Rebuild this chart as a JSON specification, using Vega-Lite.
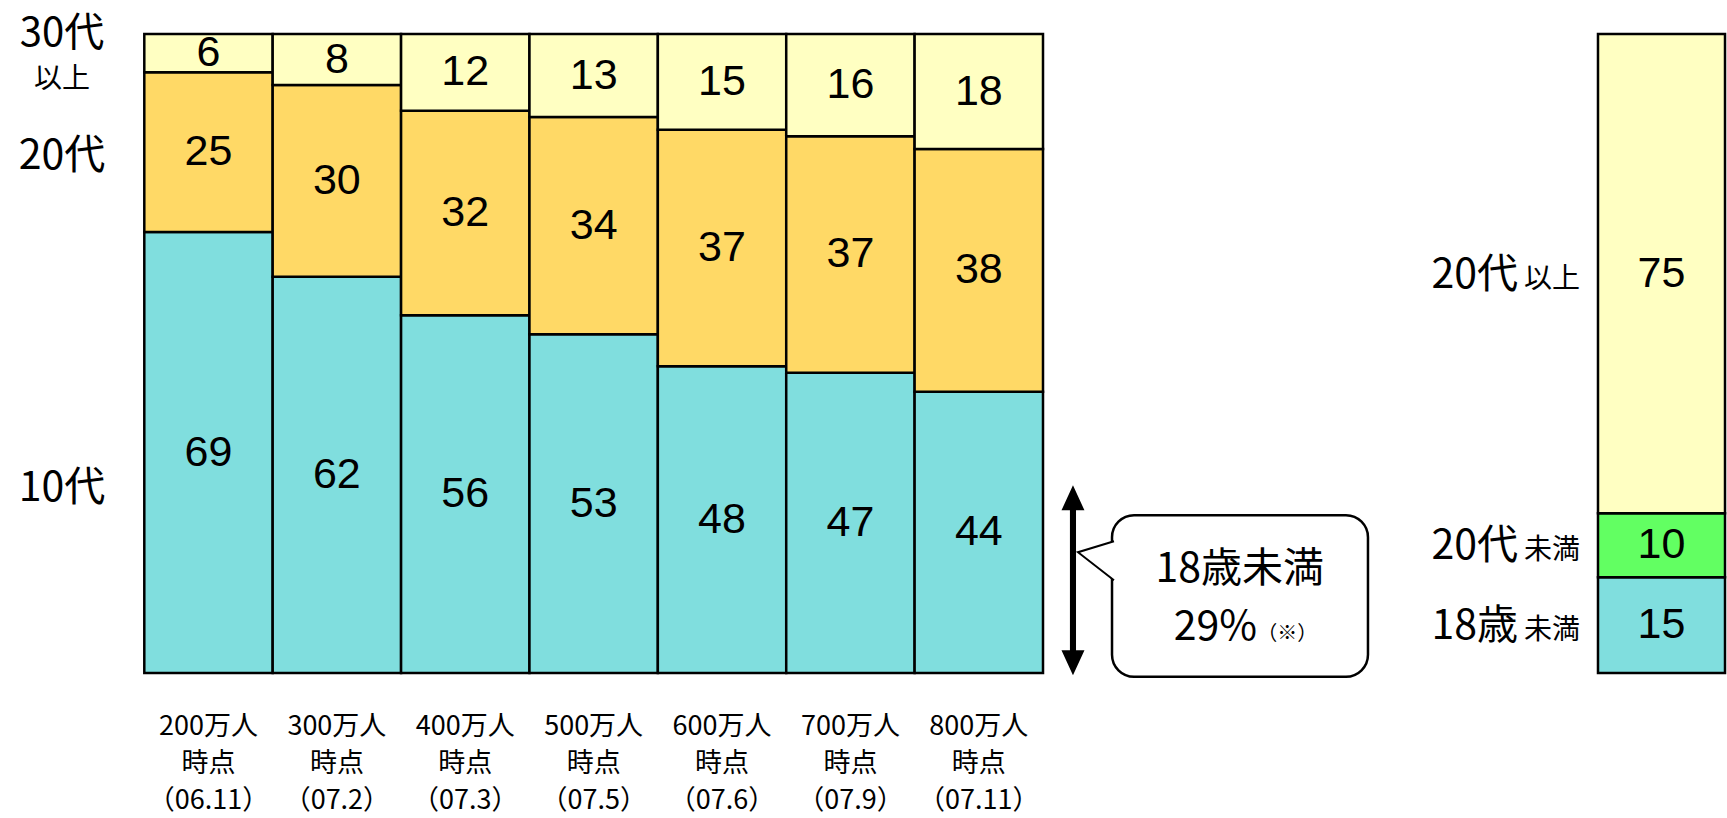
{
  "$schema": "https://vega.github.io/schema/vega-lite/v6.json",
  "width": 1727,
  "height": 818,
  "autosize": {"type": "none"},
  "padding": 0,
  "background": "white",
  "config": {
    "view": {"stroke": null},
    "font": "Noto Sans CJK JP",
    "axis": {"disable": true},
    "legend": {"disable": true}
  },
  "datasets": {
    "main": [
      {"時点": "200万人\n時点\n（06.11）", "年代": "10代", "割合": 69},
      {"時点": "200万人\n時点\n（06.11）", "年代": "20代", "割合": 25},
      {"時点": "200万人\n時点\n（06.11）", "年代": "30代以上", "割合": 6},
      {"時点": "300万人\n時点\n（07.2）", "年代": "10代", "割合": 62},
      {"時点": "300万人\n時点\n（07.2）", "年代": "20代", "割合": 30},
      {"時点": "300万人\n時点\n（07.2）", "年代": "30代以上", "割合": 8},
      {"時点": "400万人\n時点\n（07.3）", "年代": "10代", "割合": 56},
      {"時点": "400万人\n時点\n（07.3）", "年代": "20代", "割合": 32},
      {"時点": "400万人\n時点\n（07.3）", "年代": "30代以上", "割合": 12},
      {"時点": "500万人\n時点\n（07.5）", "年代": "10代", "割合": 53},
      {"時点": "500万人\n時点\n（07.5）", "年代": "20代", "割合": 34},
      {"時点": "500万人\n時点\n（07.5）", "年代": "30代以上", "割合": 13},
      {"時点": "600万人\n時点\n（07.6）", "年代": "10代", "割合": 48},
      {"時点": "600万人\n時点\n（07.6）", "年代": "20代", "割合": 37},
      {"時点": "600万人\n時点\n（07.6）", "年代": "30代以上", "割合": 15},
      {"時点": "700万人\n時点\n（07.9）", "年代": "10代", "割合": 47},
      {"時点": "700万人\n時点\n（07.9）", "年代": "20代", "割合": 37},
      {"時点": "700万人\n時点\n（07.9）", "年代": "30代以上", "割合": 16},
      {"時点": "800万人\n時点\n（07.11）", "年代": "10代", "割合": 44},
      {"時点": "800万人\n時点\n（07.11）", "年代": "20代", "割合": 38},
      {"時点": "800万人\n時点\n（07.11）", "年代": "30代以上", "割合": 18}
    ],
    "total": [
      {"区分": "18歳未満", "大": "18歳", "小": "未満", "順": 1, "割合": 15},
      {"区分": "20代未満", "大": "20代", "小": "未満", "順": 2, "割合": 10},
      {"区分": "20代以上", "大": "20代", "小": "以上", "順": 3, "割合": 75}
    ]
  },
  "resolve": {"scale": {"x": "independent", "color": "independent"}},
  "layer": [
    {
      "data": {"name": "main"},
      "encoding": {
        "x": {
          "field": "時点",
          "type": "nominal",
          "axis": null,
          "scale": {"range": [144.3, 1043], "paddingInner": 0, "paddingOuter": 0, "round": false}
        }
      },
      "layer": [
        {
          "mark": {"type": "bar", "stroke": "black", "strokeWidth": 2.5},
          "encoding": {
            "y": {
              "field": "割合",
              "type": "quantitative",
              "stack": "zero",
              "axis": null,
              "scale": {"domain": [-22.69, 105.32], "nice": false, "zero": false}
            },
            "color": {
              "field": "年代",
              "type": "nominal",
              "legend": null,
              "scale": {"domain": ["10代", "20代", "30代以上"], "range": ["#80DEDE", "#FFD966", "#FFFFC2"]}
            },
            "order": {"field": "年代", "sort": "ascending"}
          }
        },
        {
          "mark": {"type": "text", "font": "Liberation Sans", "fontSize": 43, "baseline": "middle", "color": "black"},
          "encoding": {
            "y": {"field": "割合", "type": "quantitative", "stack": "zero", "bandPosition": 0.5, "axis": null},
            "detail": {"field": "年代"},
            "order": {"field": "年代", "sort": "ascending"},
            "text": {"field": "割合"}
          }
        },
        {
          "transform": [{"filter": "datum['年代'] === '10代'"}],
          "mark": {"type": "text", "fontSize": 27, "lineBreak": "\n", "lineHeight": 37, "baseline": "alphabetic", "align": "center", "color": "black"},
          "encoding": {
            "y": {"datum": -9.7},
            "text": {"field": "時点"}
          }
        }
      ]
    },
    {
      "data": {"name": "total"},
      "layer": [
        {
          "transform": [{"stack": "割合", "groupby": [], "sort": [{"field": "順", "order": "ascending"}], "as": ["下端", "上端"]}],
          "mark": {"type": "rect", "stroke": "black", "strokeWidth": 2.5},
          "encoding": {
            "x": {"datum": 11.319, "type": "quantitative", "axis": null, "scale": {"domain": [-1.1236, 12.3235], "nice": false, "zero": false}},
            "x2": {"datum": 12.308},
            "y": {"field": "下端", "type": "quantitative", "axis": null},
            "y2": {"field": "上端"},
            "color": {
              "field": "区分",
              "type": "nominal",
              "legend": null,
              "scale": {"domain": ["18歳未満", "20代未満", "20代以上"], "range": ["#80DEDE", "#62FF62", "#FFFFC2"]}
            }
          }
        },
        {
          "mark": {"type": "text", "font": "Liberation Sans", "fontSize": 43, "baseline": "middle", "color": "black"},
          "encoding": {
            "x": {"datum": 11.8135, "type": "quantitative"},
            "y": {"field": "割合", "type": "quantitative", "stack": "zero", "bandPosition": 0.5},
            "detail": {"field": "区分"},
            "order": {"field": "順", "sort": "ascending"},
            "text": {"field": "割合"}
          }
        },
        {
          "mark": {"type": "text", "fontSize": 41, "baseline": "alphabetic", "align": "right", "dx": -80, "dy": 14, "color": "black"},
          "encoding": {
            "x": {"datum": 11.319, "type": "quantitative"},
            "y": {"field": "割合", "type": "quantitative", "stack": "zero", "bandPosition": 0.5},
            "detail": {"field": "区分"},
            "order": {"field": "順", "sort": "ascending"},
            "text": {"field": "大"}
          }
        },
        {
          "mark": {"type": "text", "fontSize": 28, "baseline": "alphabetic", "align": "right", "dx": -18, "dy": 14, "color": "black"},
          "encoding": {
            "x": {"datum": 11.319, "type": "quantitative"},
            "y": {"field": "割合", "type": "quantitative", "stack": "zero", "bandPosition": 0.5},
            "detail": {"field": "区分"},
            "order": {"field": "順", "sort": "ascending"},
            "text": {"field": "小"}
          }
        },
        {
          "data": {"values": [{}]},
          "mark": {"type": "rect", "fill": "white", "stroke": "black", "strokeWidth": 2.5, "cornerRadius": 22},
          "encoding": {
            "x": {"datum": 7.535, "type": "quantitative"},
            "x2": {"datum": 9.528},
            "y": {"datum": -0.6, "type": "quantitative"},
            "y2": {"datum": 24.7}
          }
        },
        {
          "data": {"values": [{}]},
          "mark": {"type": "point", "shape": "M0.9,-0.275L0,0L0.9,0.7", "size": 6400, "filled": true, "fill": "white", "stroke": "black", "strokeWidth": 2, "opacity": 1},
          "encoding": {
            "x": {"datum": 7.27, "type": "quantitative"},
            "y": {"datum": 18.9, "type": "quantitative"}
          }
        },
        {
          "data": {"values": [{}]},
          "mark": {"type": "point", "shape": "M0,-1L0.121,-0.737L0.032,-0.737L0.032,0.737L0.121,0.737L0,1L-0.121,0.737L-0.032,0.737L-0.032,-0.737L-0.121,-0.737Z", "size": 36100, "filled": true, "fill": "black", "strokeWidth": 0, "opacity": 1},
          "encoding": {
            "x": {"datum": 7.231, "type": "quantitative"},
            "y": {"datum": 14.5, "type": "quantitative"}
          }
        },
        {
          "data": {"values": [{}]},
          "mark": {"type": "text", "fontSize": 41, "baseline": "alphabetic", "align": "center", "color": "black", "text": "18歳未満"},
          "encoding": {
            "x": {"datum": 8.53, "type": "quantitative"},
            "y": {"datum": 14.24, "type": "quantitative"}
          }
        },
        {
          "data": {"values": [{}]},
          "mark": {"type": "text", "fontSize": 41, "baseline": "alphabetic", "align": "right", "color": "black", "text": "29%"},
          "encoding": {
            "x": {"datum": 8.665, "type": "quantitative"},
            "y": {"datum": 5.16, "type": "quantitative"}
          }
        },
        {
          "data": {"values": [{}]},
          "mark": {"type": "text", "fontSize": 20, "baseline": "alphabetic", "align": "left", "color": "black", "text": "（※）"},
          "encoding": {
            "x": {"datum": 8.665, "type": "quantitative"},
            "y": {"datum": 5.16, "type": "quantitative"}
          }
        },
        {
          "data": {"values": [{}]},
          "mark": {"type": "text", "fontSize": 40, "baseline": "middle", "align": "center", "color": "black", "text": "30代"},
          "encoding": {
            "x": {"datum": -0.641, "type": "quantitative"},
            "y": {"datum": 100.0, "type": "quantitative"}
          }
        },
        {
          "data": {"values": [{}]},
          "mark": {"type": "text", "fontSize": 28, "baseline": "middle", "align": "center", "color": "black", "text": "以上"},
          "encoding": {
            "x": {"datum": -0.641, "type": "quantitative"},
            "y": {"datum": 92.8, "type": "quantitative"}
          }
        },
        {
          "data": {"values": [{}]},
          "mark": {"type": "text", "fontSize": 41, "baseline": "middle", "align": "center", "color": "black", "text": "20代"},
          "encoding": {
            "x": {"datum": -0.641, "type": "quantitative"},
            "y": {"datum": 80.8, "type": "quantitative"}
          }
        },
        {
          "data": {"values": [{}]},
          "mark": {"type": "text", "fontSize": 41, "baseline": "middle", "align": "center", "color": "black", "text": "10代"},
          "encoding": {
            "x": {"datum": -0.641, "type": "quantitative"},
            "y": {"datum": 28.8, "type": "quantitative"}
          }
        }
      ]
    }
  ]
}
